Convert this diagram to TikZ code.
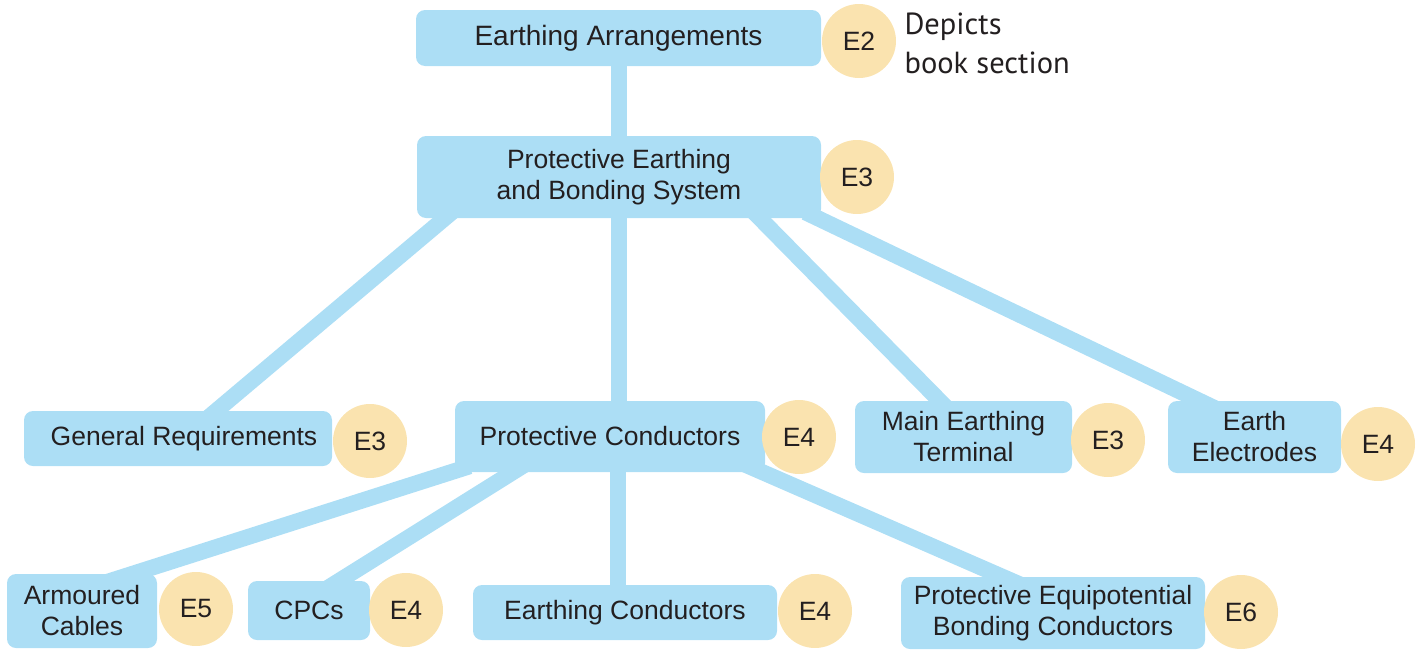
\documentclass[tikz,border=0pt]{standalone}
\usepackage{fontspec}
\setmainfont{Liberation Sans}
\newfontfamily\notefont{PT Sans}
\usetikzlibrary{backgrounds}
\definecolor{boxblue}{RGB}{172,222,245}
\definecolor{secyellow}{RGB}{250,227,175}
\definecolor{ink}{RGB}{35,31,32}

\begin{document}
\begin{tikzpicture}[x=1pt, y=-1pt, every node/.style={font=\fontsize{26.5}{31}\selectfont, text=ink},
	topic/.style={fill=boxblue, rounded corners=9pt, align=center, inner sep=0pt},
	sec/.style={circle, fill=secyellow, minimum size=74pt, inner sep=0pt},
	link/.style={draw=boxblue, line width=16pt}]
	\useasboundingbox (0,0) rectangle (1417,651);
	% top levels
	\node[topic, minimum width=405pt, minimum height=56pt, font=\fontsize{28}{31}\selectfont] (ea) at (618.5,38) {Earthing Arrangements};
	\node[sec] (ea-sec) at (859,41) {E2};
	\node[anchor=west, align=left, font=\notefont\fontsize{30.5}{39}\selectfont] (note) at (901,43) {Depicts\\book section};
	\node[topic, minimum width=404pt, minimum height=82pt] (pebs) at (619,177) {Protective Earthing\\and Bonding System};
	\node[sec] (pebs-sec) at (857,177) {E3};
	% second level
	\node[topic, minimum width=308pt, minimum height=55pt] (gr) at (178,438.5) {\hspace{12pt}General Requirements};
	\node[sec] (gr-sec) at (370,441) {E3};
	\node[topic, minimum width=310pt, minimum height=71pt] (pc) at (610,436.5) {Protective Conductors};
	\node[sec] (pc-sec) at (799,437) {E4};
	\node[topic, minimum width=217pt, minimum height=72pt] (met) at (963.5,437) {Main Earthing\\Terminal};
	\node[sec] (met-sec) at (1108,440) {E3};
	\node[topic, minimum width=173pt, minimum height=72pt] (ee) at (1254.5,437) {Earth\\Electrodes};
	\node[sec] (ee-sec) at (1378,444) {E4};
	% third level
	\node[topic, minimum width=150pt, minimum height=74pt] (ac) at (82,611) {Armoured\\Cables};
	\node[sec] (ac-sec) at (196,609) {E5};
	\node[topic, minimum width=122pt, minimum height=59pt] (cpc) at (309,610.5) {CPCs};
	\node[sec] (cpc-sec) at (406,610) {E4};
	\node[topic, minimum width=304pt, minimum height=55pt] (ec) at (625,612.5) {Earthing Conductors};
	\node[sec] (ec-sec) at (815,611) {E4};
	\node[topic, minimum width=304pt, minimum height=72pt] (pebc) at (1053,613) {Protective Equipotential\\Bonding Conductors};
	\node[sec] (pebc-sec) at (1241,612) {E6};
	% connectors behind the boxes
	\begin{scope}[on background layer]
		\draw[link] (pebs.center |- ea.center) -- (pebs.center);
		\draw[link] ([xshift=-160pt,yshift=12pt]pebs.south) -- ([xshift=24pt,yshift=-12pt]gr.north);
		\draw[link] (pebs.south) -- (pebs.south |- pc.center);
		\draw[link] ([xshift=129pt,yshift=12pt]pebs.south) -- ([xshift=-12pt,yshift=-12pt]met.north);
		\draw[link] ([xshift=-16pt,yshift=6pt]pebs.south east) -- ([xshift=-30pt,yshift=-12pt]ee.north);
		\draw[link] ([xshift=15pt,yshift=6pt]pc.south west) -- ([xshift=13pt,yshift=-12pt]ac.north);
		\draw[link] ([xshift=-78pt,yshift=12pt]pc.south) -- ([xshift=11pt,yshift=-12pt]cpc.north);
		\draw[link] ([xshift=8pt,yshift=12pt]pc.south) -- ([xshift=-7pt,yshift=-12pt]ec.north);
		\draw[link] ([xshift=125pt,yshift=12pt]pc.south) -- ([xshift=-23pt,yshift=-12pt]pebc.north);
	\end{scope}
\end{tikzpicture}
\end{document}
